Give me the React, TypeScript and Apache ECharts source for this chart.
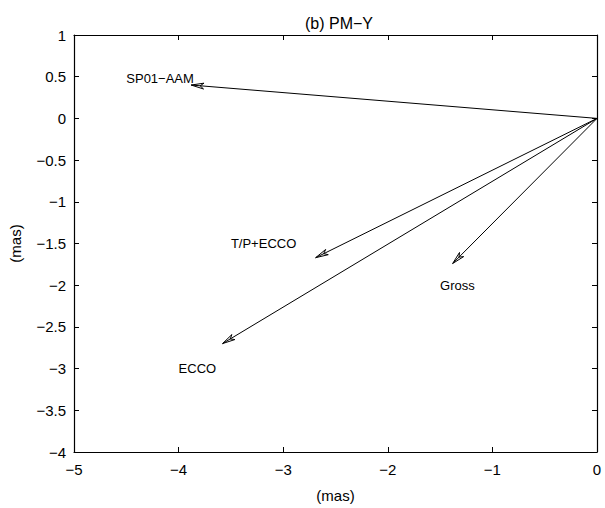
import React, { useEffect, useRef } from "react";
import * as echarts from "echarts";

const names = ["SP01\u2212AAM", "T/P+ECCO", "ECCO", "Gross"];
const tipX = [-3.88, -2.69, -3.58, -1.38];
const tipY = [0.4, -1.67, -2.7, -1.74];
const labelX = [-4.5, -3.5, -4.0, -1.5];
const labelY = [0.48, -1.5, -3.0, -2.0];
const xTicks = [-5, -4, -3, -2, -1, 0];
const yTicks = [-4, -3.5, -3, -2.5, -2, -1.5, -1, -0.5, 0, 0.5, 1];

const FONT = "'Liberation Sans', Arial, Helvetica, sans-serif";
const fmt = (v: number) => String(v).replace("-", "\u2212");

export default function App() {
  const ref = useRef<HTMLDivElement>(null);
  useEffect(() => {
    if (!ref.current) return;
    const chart = echarts.init(ref.current, null, { renderer: "svg" });
    const axisCommon = {
      axisLine: { show: true, onZero: false, lineStyle: { color: "#000", width: 1.2 } },
      axisTick: { show: true, inside: true, length: 5, lineStyle: { color: "#000", width: 1 } },
      splitLine: { show: false },
    };
    const arrows = tipX.map((x, i) => [x, tipY[i]]);
    const labels = labelX.map((x, i) => [x, labelY[i], names[i]]);
    chart.setOption({
      animation: false,
      backgroundColor: "#fff",
      title: {
        text: "(b) PM\u2212Y",
        left: 334,
        top: 10,
        textAlign: "center",
        textStyle: { fontFamily: FONT, fontSize: 16, fontWeight: "normal", color: "#000" },
      },
      grid: { left: 72, right: 8, top: 35, bottom: 56 },
      xAxis: [
        {
          type: "value",
          min: xTicks[0],
          max: xTicks[xTicks.length - 1],
          interval: 1,
          position: "bottom",
          name: "(mas)",
          nameLocation: "middle",
          nameGap: 36,
          nameTextStyle: { fontFamily: FONT, fontSize: 15, color: "#000" },
          axisLabel: { margin: 10, fontFamily: FONT, fontSize: 15, color: "#000", formatter: fmt },
          ...axisCommon,
        },
        {
          type: "value",
          min: xTicks[0],
          max: xTicks[xTicks.length - 1],
          interval: 1,
          position: "top",
          axisLabel: { show: false },
          ...axisCommon,
        },
      ],
      yAxis: [
        {
          type: "value",
          min: yTicks[0],
          max: yTicks[yTicks.length - 1],
          interval: 0.5,
          position: "left",
          name: "(mas)",
          nameLocation: "middle",
          nameGap: 51,
          nameTextStyle: { fontFamily: FONT, fontSize: 15, color: "#000" },
          axisLabel: { margin: 8, fontFamily: FONT, fontSize: 15, color: "#000", formatter: fmt },
          ...axisCommon,
        },
        {
          type: "value",
          min: yTicks[0],
          max: yTicks[yTicks.length - 1],
          interval: 0.5,
          position: "right",
          axisLabel: { show: false },
          ...axisCommon,
        },
      ],
      series: [
        {
          type: "custom",
          data: arrows,
          clip: false,
          renderItem: (params: any, api: any) => {
            const p0 = api.coord([0, 0]);
            const p1 = api.coord([api.value(0), api.value(1)]);
            const ang = Math.atan2(p1[1] - p0[1], p1[0] - p0[0]);
            const L = 13;
            const a = (13 * Math.PI) / 180;
            const b1 = [p1[0] - L * Math.cos(ang - a), p1[1] - L * Math.sin(ang - a)];
            const b2 = [p1[0] - L * Math.cos(ang + a), p1[1] - L * Math.sin(ang + a)];
            const m = [p1[0] - 9 * Math.cos(ang), p1[1] - 9 * Math.sin(ang)];
            const style = { stroke: "#000", lineWidth: 1, fill: "none" };
            return {
              type: "group",
              children: [
                { type: "line", shape: { x1: p0[0], y1: p0[1], x2: p1[0], y2: p1[1] }, style },
                { type: "polyline", shape: { points: [b1, p1, b2] }, style },
                { type: "polyline", shape: { points: [b1, m, b2] }, style },
              ],
            };
          },
        },
        {
          type: "custom",
          data: labels,
          clip: false,
          renderItem: (params: any, api: any) => {
            const p = api.coord([api.value(0), api.value(1)]);
            return {
              type: "text",
              x: p[0],
              y: p[1],
              style: {
                text: labels[params.dataIndex][2] as string,
                fontFamily: FONT,
                fontSize: 13,
                fill: "#000",
                textAlign: "left",
                textVerticalAlign: "middle",
              },
            };
          },
        },
      ],
    });
    return () => chart.dispose();
  }, []);
  return (
    <div
      ref={ref}
      style={{ position: "fixed", left: 0, top: 0, width: 605, height: 508, background: "#fff" }}
    />
  );
}
